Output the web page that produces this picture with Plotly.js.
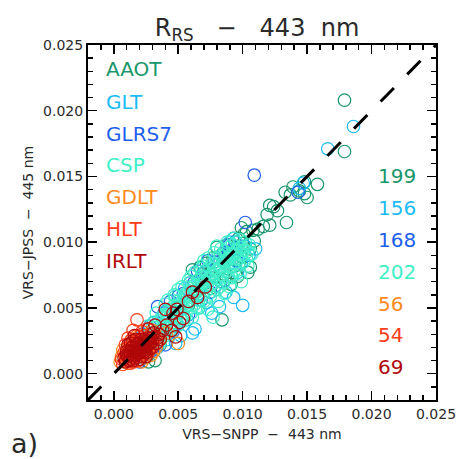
<!DOCTYPE html>
<html>
<head>
<meta charset="utf-8">
<script src="https://cdn.plot.ly/plotly-3.0.1.min.js"></script>
<style>html,body{margin:0;padding:0;background:#fff;}#chart{width:459px;height:459px;}</style>
</head>
<body>
<div id="chart"></div>
<script>
// ---- data (reflectance, sr^-1) ----
const seriesNames = ["AAOT", "GLT", "GLRS7", "CSP", "GDLT", "HLT", "IRLT"];
const seriesCounts = ["199", "156", "168", "202", "56", "54", "69"];
const seriesColors = ["#17966a", "#1abcf6", "#1f5fee", "#3ef0c8", "#ff8a1c", "#ff3c1a", "#b0080a"];

const aaotX = [0.0179,0.0179,0.0133,0.0139,0.0148,0.0158,0.0150,0.0148,0.0137,0.0144,0.0121,0.0127,0.0124,0.0119,0.0121,0.0134,0.0116,0.0108,0.0103,0.0099,0.0112,0.0085,0.0090,0.0095,0.0100,0.0106,0.0092,0.0088,0.0097,0.0083,0.0099,0.0061,0.0104,0.0106,0.0067,0.0072,0.0085,0.0080,0.0086,0.0071,0.0084,0.0075,0.0065,0.0078,0.0091,0.0032,0.0026,0.0027,0.0058,0.0048,0.0094,0.0101,0.0077,0.0069,0.0082,0.0109,0.0096,0.0074,0.0036,0.0022];
const aaotY = [0.0208,0.0169,0.0138,0.0142,0.0146,0.0144,0.0134,0.0137,0.0136,0.0139,0.0128,0.0124,0.0127,0.0121,0.0113,0.0115,0.0112,0.0109,0.0108,0.0111,0.0110,0.0086,0.0092,0.0096,0.0099,0.0095,0.0087,0.0098,0.0103,0.0090,0.0089,0.0079,0.0077,0.0081,0.0081,0.0084,0.0076,0.0096,0.0071,0.0069,0.0041,0.0065,0.0060,0.0073,0.0068,0.0010,0.0013,0.0009,0.0052,0.0042,0.0082,0.0106,0.0088,0.0076,0.0080,0.0101,0.0074,0.0079,0.0022,0.0019];

const gltX = [0.0186,0.0166,0.0147,0.0144,0.0082,0.0100,0.0061,0.0076,0.0096,0.0069,0.0055,0.0048,0.0093,0.0063,0.0052,0.0042,0.0036,0.0030,0.0025,0.0019,0.0014,0.0022,0.0031,0.0041,0.0050,0.0060,0.0070,0.0080,0.0088,0.0094,0.0102,0.0087,0.0072,0.0057,0.0045,0.0034,0.0028,0.0066,0.0079,0.0099,0.0090,0.0105,0.0110,0.0016,0.0009];
const gltY = [0.0188,0.0171,0.0145,0.0141,0.0051,0.0052,0.0031,0.0046,0.0077,0.0060,0.0065,0.0023,0.0058,0.0034,0.0029,0.0026,0.0033,0.0024,0.0020,0.0012,0.0016,0.0028,0.0039,0.0048,0.0053,0.0066,0.0074,0.0083,0.0089,0.0095,0.0097,0.0062,0.0054,0.0041,0.0036,0.0020,0.0016,0.0050,0.0067,0.0084,0.0100,0.0090,0.0095,0.0023,0.0011];

const glrsX = [0.0109,0.0102,0.0093,0.0094,0.0143,0.0034,0.0049,0.0028,0.0039,0.0044,0.0054,0.0062,0.0070,0.0078,0.0085,0.0090,0.0022,0.0018,0.0012,0.0026,0.0035,0.0046,0.0058,0.0068,0.0075,0.0083,0.0095,0.0065,0.0050,0.0030,0.0020,0.0040,0.0073,0.0089,0.0059];
const glrsY = [0.0151,0.0115,0.0103,0.0100,0.0138,0.0051,0.0038,0.0036,0.0046,0.0055,0.0061,0.0069,0.0077,0.0085,0.0092,0.0098,0.0030,0.0024,0.0016,0.0021,0.0028,0.0032,0.0045,0.0056,0.0062,0.0070,0.0086,0.0078,0.0059,0.0018,0.0009,0.0022,0.0086,0.0093,0.0069];

const cspX = [0.0025,0.0028,0.0030,0.0032,0.0033,0.0035,0.0036,0.0038,0.0039,0.0040,0.0042,0.0043,0.0044,0.0046,0.0047,0.0048,0.0050,0.0051,0.0052,0.0053,0.0055,0.0056,0.0057,0.0058,0.0060,0.0061,0.0062,0.0063,0.0064,0.0065,0.0066,0.0067,0.0068,0.0069,0.0070,0.0071,0.0072,0.0073,0.0074,0.0075,0.0076,0.0077,0.0078,0.0079,0.0080,0.0081,0.0082,0.0083,0.0084,0.0085,0.0086,0.0087,0.0088,0.0089,0.0090,0.0091,0.0092,0.0093,0.0094,0.0095,0.0096,0.0097,0.0098,0.0099,0.0100,0.0102,0.0104,0.0105,0.0077,0.0086,0.0098,0.0050,0.0040,0.0060,0.0070,0.0080,0.0033,0.0022,0.0019,0.0026,0.0107,0.0092,0.0082,0.0066,0.0054,0.0044,0.0036,0.0069,0.0059,0.0048,0.0101,0.0091,
  0.0030,0.0034,0.0037,0.0041,0.0045,0.0049,0.0052,0.0056,0.0059,0.0062,0.0065,0.0068,0.0071,0.0074,0.0077,0.0080,0.0083,0.0086,0.0089,0.0092,0.0095,0.0098,0.0101,0.0103,0.0097,0.0094,0.0089,0.0085,0.0080,0.0075,0.0070,0.0065,0.0060,0.0055,0.0050,0.0045,0.0040,0.0035,0.0042,0.0047,0.0053,0.0058,0.0063,0.0068,0.0073,0.0078,0.0083,0.0088,0.0093,0.0029,0.0031,0.0061,0.0073,0.0081,0.0090,0.0099,0.0104,0.0056,0.0043,0.0038];
const cspY = [0.0026,0.0031,0.0027,0.0035,0.0029,0.0040,0.0032,0.0037,0.0044,0.0033,0.0040,0.0049,0.0036,0.0044,0.0052,0.0039,0.0047,0.0056,0.0042,0.0051,0.0059,0.0046,0.0054,0.0063,0.0050,0.0058,0.0067,0.0053,0.0062,0.0071,0.0056,0.0065,0.0074,0.0060,0.0069,0.0078,0.0063,0.0072,0.0081,0.0067,0.0075,0.0084,0.0069,0.0078,0.0088,0.0072,0.0081,0.0090,0.0075,0.0084,0.0093,0.0078,0.0086,0.0096,0.0081,0.0089,0.0098,0.0084,0.0091,0.0100,0.0087,0.0094,0.0102,0.0090,0.0096,0.0100,0.0093,0.0098,0.0043,0.0061,0.0076,0.0064,0.0053,0.0074,0.0086,0.0097,0.0046,0.0023,0.0020,0.0036,0.0091,0.0073,0.0066,0.0050,0.0040,0.0030,0.0024,0.0082,0.0069,0.0059,0.0085,0.0075,
  0.0038,0.0033,0.0043,0.0045,0.0049,0.0050,0.0054,0.0052,0.0056,0.0060,0.0064,0.0068,0.0070,0.0073,0.0076,0.0079,0.0082,0.0085,0.0088,0.0091,0.0093,0.0096,0.0094,0.0088,0.0083,0.0079,0.0073,0.0069,0.0064,0.0059,0.0055,0.0051,0.0046,0.0043,0.0037,0.0034,0.0029,0.0025,0.0056,0.0060,0.0066,0.0071,0.0077,0.0080,0.0088,0.0092,0.0095,0.0100,0.0103,0.0021,0.0023,0.0043,0.0049,0.0055,0.0066,0.0070,0.0082,0.0061,0.0042,0.0030];

const gdltX = [0.0005,0.0007,0.0009,0.0011,0.0012,0.0014,0.0015,0.0017,0.0018,0.0020,0.0021,0.0023,0.0024,0.0026,0.0028,0.0030,0.0031,0.0033,0.0026,0.0050,0.0010,0.0013,0.0019,0.0022,0.0036,0.0041,0.0006,0.0016,0.0020,0.0029];
const gdltY = [0.0009,0.0018,0.0013,0.0008,0.0021,0.0012,0.0017,0.0024,0.0010,0.0015,0.0020,0.0026,0.0012,0.0018,0.0023,0.0033,0.0017,0.0020,0.0023,0.0023,0.0016,0.0025,0.0028,0.0009,0.0026,0.0031,0.0013,0.0014,0.0022,0.0014];

const hltX = [0.0018,0.0006,0.0008,0.0009,0.0010,0.0012,0.0013,0.0014,0.0015,0.0016,0.0017,0.0018,0.0019,0.0020,0.0021,0.0022,0.0023,0.0024,0.0025,0.0027,0.0028,0.0030,0.0032,0.0011,0.0015,0.0026,0.0034,0.0007,0.0012,0.0029,
  0.0010,0.0014,0.0017,0.0020,0.0022,0.0026,0.0013,0.0009,0.0019,0.0024,0.0031,0.0016];
const hltY = [0.0041,0.0011,0.0016,0.0022,0.0010,0.0014,0.0019,0.0026,0.0009,0.0016,0.0021,0.0029,0.0013,0.0018,0.0024,0.0032,0.0015,0.0020,0.0027,0.0017,0.0025,0.0021,0.0028,0.0027,0.0033,0.0034,0.0024,0.0007,0.0011,0.0030,
  0.0019,0.0014,0.0018,0.0026,0.0020,0.0015,0.0008,0.0014,0.0010,0.0029,0.0025,0.0023];

const irltX = [0.0071,0.0065,0.0058,0.0049,0.0040,0.0051,0.0041,0.0046,0.0054,0.0048,0.0045,0.0038,0.0036,0.0061,0.0008,0.0010,0.0011,0.0012,0.0013,0.0014,0.0015,0.0016,0.0017,0.0018,0.0019,0.0020,0.0021,0.0022,0.0023,0.0024,0.0025,0.0026,0.0027,0.0028,0.0030,0.0031,0.0033,0.0035,0.0015,0.0019,0.0023,0.0012,0.0027,0.0032,0.0016,0.0020,
  0.0009,0.0011,0.0013,0.0014,0.0016,0.0017,0.0018,0.0019,0.0020,0.0021,0.0022,0.0023,0.0024,0.0025,0.0026,0.0028,0.0029,0.0013,0.0010,0.0017,0.0025,0.0034,0.0030,0.0015];
const irltY = [0.0066,0.0058,0.0055,0.0049,0.0049,0.0039,0.0037,0.0046,0.0042,0.0028,0.0033,0.0033,0.0026,0.0062,0.0012,0.0017,0.0022,0.0010,0.0015,0.0020,0.0025,0.0012,0.0017,0.0022,0.0015,0.0020,0.0026,0.0013,0.0018,0.0023,0.0016,0.0021,0.0027,0.0019,0.0025,0.0031,0.0023,0.0030,0.0014,0.0019,0.0021,0.0017,0.0034,0.0037,0.0029,0.0011,
  0.0009,0.0013,0.0011,0.0017,0.0019,0.0014,0.0016,0.0023,0.0016,0.0018,0.0022,0.0025,0.0017,0.0020,0.0025,0.0023,0.0027,0.0023,0.0014,0.0026,0.0013,0.0027,0.0020,0.0010];

const oneToOne = [-0.002, 0.025];
const tickVals = [0.000, 0.005, 0.010, 0.015, 0.020, 0.025];
const tickText = ["0.000", "0.005", "0.010", "0.015", "0.020", "0.025"];

// ---- build ----
const xs = [aaotX, gltX, glrsX, cspX, gdltX, hltX, irltX];
const ys = [aaotY, gltY, glrsY, cspY, gdltY, hltY, irltY];
const FONT = "DejaVu Sans";
const TXT = "#2a2a2a";

const traces = seriesNames.map((n, i) => ({
  type: "scatter", mode: "markers", name: n, x: xs[i], y: ys[i],
  marker: {symbol: "circle-open", size: 12.5, color: seriesColors[i], line: {width: 1.2, color: seriesColors[i]}},
  showlegend: false, hoverinfo: "skip"
}));
traces.push({type: "scatter", mode: "lines", x: oneToOne, y: oneToOne,
  line: {color: "#000", width: 3, dash: "19px,19px"}, showlegend: false, hoverinfo: "skip"});

// plot area in pixels
const L = 88, R = 436, T = 45, B = 400;
const px = v => (v - L) / (R - L);
const py = v => (B - v) / (B - T);

const annotations = [];
const labelY = [69, 102, 134, 165, 197, 229, 261];
const countY = [176, 208, 240, 272, 304, 335, 367];
seriesNames.forEach((n, i) => {
  annotations.push({xref: "paper", yref: "paper", x: px(104), y: py(labelY[i]), xanchor: "left", yanchor: "middle",
    text: n, showarrow: false, font: {family: FONT, size: 20, color: seriesColors[i]}});
  annotations.push({xref: "paper", yref: "paper", x: px(376), y: py(countY[i]), xanchor: "left", yanchor: "middle",
    text: seriesCounts[i], showarrow: false, font: {family: FONT, size: 20, color: seriesColors[i]}});
});
annotations.push({xref: "paper", yref: "paper", x: px(9), y: py(443), xanchor: "left", yanchor: "middle",
  text: "a)", showarrow: false, font: {family: FONT, size: 27, color: TXT}});

const axisCommon = {
  range: oneToOne, tickvals: tickVals, ticktext: tickText,
  showgrid: false, zeroline: false, showline: true, linecolor: "#000", linewidth: 2,
  mirror: "allticks", ticks: "inside", ticklen: 9, tickwidth: 1.5, tickcolor: "#000",
  minor: {dtick: 0.001, tick0: 0, ticks: "inside", ticklen: 5, tickwidth: 1.5, tickcolor: "#000", showgrid: false},
  tickfont: {family: FONT, size: 14, color: TXT}, fixedrange: true
};

const layout = {
  width: 459, height: 459,
  margin: {l: L, r: 459 - R, t: T, b: 459 - B},
  paper_bgcolor: "#fff", plot_bgcolor: "#fff",
  title: {text: "R<sub>RS</sub>   \u2212   443  nm", font: {family: FONT, size: 24, color: TXT},
    xref: "container", x: 257 / 459, xanchor: "center", yref: "container", y: 1 - 28 / 459, yanchor: "middle"},
  xaxis: Object.assign({}, axisCommon, {title: {text: "VRS\u2212SNPP  \u2212  443 nm", font: {family: FONT, size: 14, color: TXT}, standoff: 8}}),
  yaxis: Object.assign({}, axisCommon, {title: {text: "VRS\u2212JPSS  \u2212  445 nm", font: {family: FONT, size: 14, color: TXT}, standoff: 6}}),
  annotations: annotations
};

Plotly.newPlot("chart", traces, layout, {staticPlot: true, displayModeBar: false});
</script>
</body>
</html>
